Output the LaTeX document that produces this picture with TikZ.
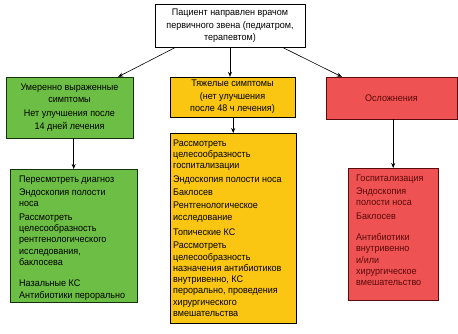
\documentclass[tikz,border=0pt]{standalone}
\usepackage{fontspec}
\setmainfont{Liberation Sans}[FakeStretch=0.94]
\usetikzlibrary{arrows.meta,positioning}
\definecolor{grnfill}{RGB}{108,190,68}
\definecolor{ylwfill}{RGB}{250,198,18}
\definecolor{redfill}{RGB}{239,82,82}
\definecolor{redtext}{RGB}{90,10,10}
\definecolor{grnline}{RGB}{20,50,10}

\newcommand{\lowtext}[4]{%
  \begin{minipage}[t][#1][t]{#2}\raggedright\leftskip=#3\relax
  \vspace{6.5pt}#4\end{minipage}}

\begin{document}
\begin{tikzpicture}[x=1pt, y=-1pt,
  box/.style={draw, align=center, inner sep=2pt, font=\fontsize{9.6}{12.5}\selectfont},
  lowbox/.style={draw, inner sep=0pt, anchor=north west, font=\fontsize{9.6}{11.3}\selectfont},
  arr/.style={-{Stealth[length=5pt,width=4pt]}, line width=0.6pt}
]
\useasboundingbox (0,0) rectangle (458,333);

% top of the tree
\node[box, fill=white, minimum width=150pt, minimum height=43pt] (pat) at (230,26)
  {Пациент направлен врачом\\первичного звена (педиатром,\\терапевтом)};

% three groups
\node[box, fill=grnfill, draw=grnline, minimum width=127pt, minimum height=61pt] (grn1) at (69.5,107.5)
  {Умеренно выраженные\\симптомы\\[1.5pt]Нет улучшения после\\14 дней лечения};
\node[box, fill=ylwfill, minimum width=125pt, minimum height=40pt] (ylw1) at (232.5,97)
  {Тяжелые симптомы\\(нет улучшения\\после 48 ч лечения)};
\node[box, fill=redfill, draw=redtext, text=redtext, minimum width=131pt, minimum height=42pt] (red1) at (391.5,98)
  {Осложнения};

% what to do
\node[lowbox, fill=grnfill, draw=grnline] (grn2) at (10,169)
  {\lowtext{133pt}{127pt}{9pt}{Пересмотреть диагноз\\[2pt]
   Эндоскопия полости\\носа\\[2pt]
   Рассмотреть\\целесообразность\\рентгенологического\\исследования,\\баклосева\\[10pt]
   Назальные КС\\Антибиотики перорально}};
\node[lowbox, fill=ylwfill] (ylw2) at (170,133)
  {\lowtext{190pt}{126pt}{3pt}{Рассмотреть\\целесообразность\\госпитализации\\[2pt]
   Эндоскопия полости носа\\[2pt]
   Баклосев\\[2pt]
   Рентгенологическое\\исследование\\[4pt]
   Топические КС\\[2pt]
   Рассмотреть\\целесообразность\\назначения антибиотиков\\внутривенно, КС\\перорально, проведения\\хирургического\\вмешательства}};
\node[lowbox, fill=redfill, draw=redtext, text=redtext] (red2) at (348,168)
  {\lowtext{132pt}{90pt}{8pt}{Госпитализация\\[2pt]
   Эндоскопия\\полости носа\\[2pt]
   Баклосев\\[10pt]
   Антибиотики\\внутривенно\\и/или\\хирургическое\\вмешательство}};

\draw[arr] ([xshift=20pt]pat.south west) -- ([xshift=-15pt]grn1.north east);
\draw[arr] (pat.south) -- (pat.south |- ylw1.north);
\draw[arr] ([xshift=-22pt]pat.south east) -- ([xshift=16pt]red1.north west);
\draw[arr] (grn1.south -| grn2.north) -- (grn2.north);
\draw[arr] (ylw1.south -| ylw2.north) -- (ylw2.north);
\draw[arr] (red1.south -| red2.north) -- (red2.north);
\end{tikzpicture}
\end{document}
